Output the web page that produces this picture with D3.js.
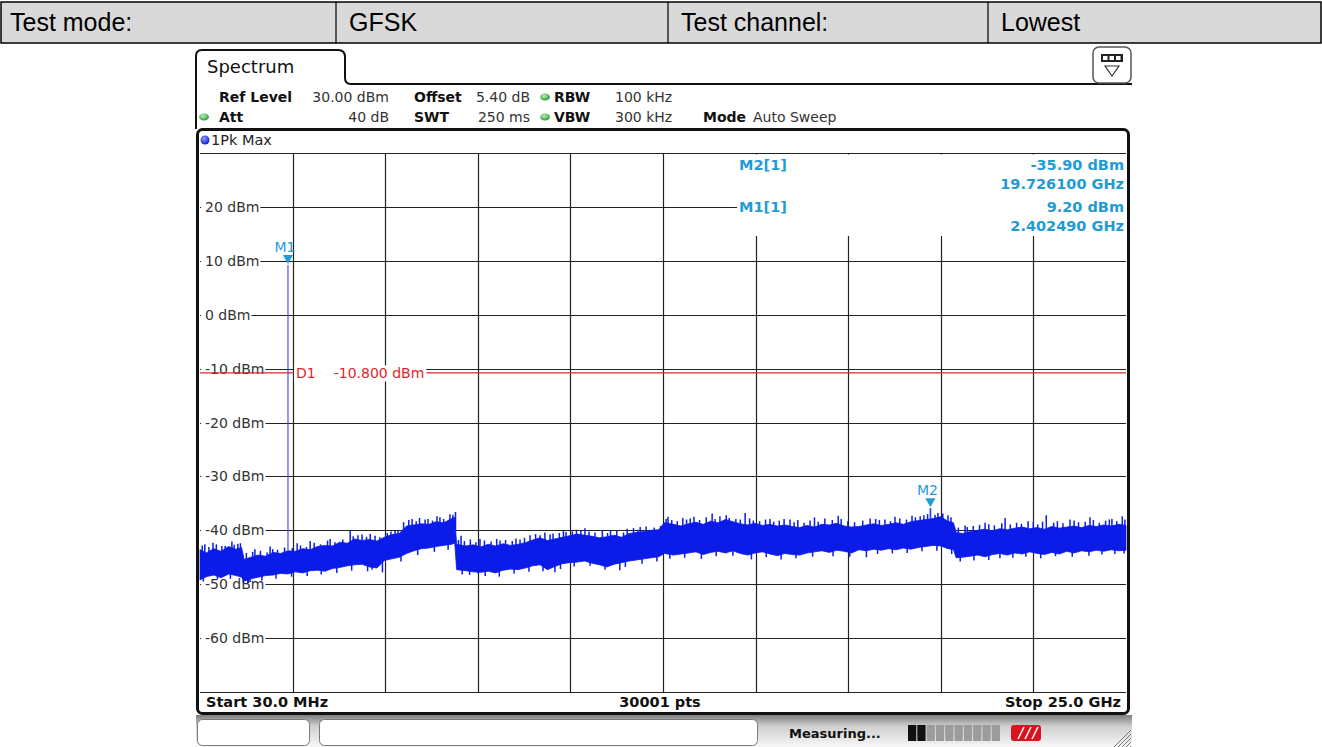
<!DOCTYPE html>
<html>
<head>
<meta charset="utf-8">
<script src="https://cdn.jsdelivr.net/npm/d3@7"></script>
<style>
  html, body { margin: 0; padding: 0; background: #fff; }
  svg { display: block; }
</style>
</head>
<body>
<svg id="chart" width="1322" height="747"></svg>
<script>
// ---------------- data ----------------
const headerTexts = ["Test mode:", "GFSK", "Test channel:", "Lowest"];

const startGHz = 0.03;
const stopGHz = 25.0;
const refLevel = 30;          // dBm, top of the screen
const dbPerDiv = 10;
const sweepPoints = 30001;

const yTickValues = [20, 10, 0, -10, -20, -30, -40, -50, -60];
const displayLineDbm = -10.8;

// peak-hold trace envelope: frequency (GHz), upper and lower edge (dBm)
const freqGHz = [
  0.03, 0.2, 0.4, 0.6, 0.8, 1.0, 1.15, 1.22, 1.4, 1.6,
  1.8, 2.0, 2.2, 2.4, 2.6, 2.8, 3.0, 3.2, 3.4, 3.6,
  3.8, 4.0, 4.2, 4.4, 4.6, 4.8, 5.0, 5.2, 5.4, 5.6,
  5.8, 6.0, 6.2, 6.4, 6.6, 6.8, 6.9, 6.95, 7.2, 7.4,
  7.6, 7.8, 8.0, 8.2, 8.4, 8.6, 8.8, 9.0, 9.2, 9.4,
  9.6, 9.8, 10.0, 10.2, 10.4, 10.6, 10.8, 11.0, 11.2, 11.4,
  11.6, 11.8, 12.0, 12.2, 12.4, 12.55, 12.8, 13.0, 13.2, 13.4,
  13.6, 13.8, 14.0, 14.2, 14.4, 14.6, 14.8, 15.0, 15.2, 15.4,
  15.6, 15.8, 16.0, 16.2, 16.4, 16.6, 16.8, 17.0, 17.2, 17.4,
  17.6, 17.8, 18.0, 18.2, 18.4, 18.6, 18.8, 19.0, 19.2, 19.4,
  19.6, 19.8, 20.0, 20.2, 20.35, 20.42, 20.6, 20.8, 21.0, 21.2,
  21.4, 21.6, 21.8, 22.0, 22.2, 22.4, 22.6, 22.8, 23.0, 23.2,
  23.4, 23.6, 23.8, 24.0, 24.2, 24.4, 24.6, 24.8, 25.0
];
const traceTop = [
  -43.6, -44.2, -43.4, -43.9, -43.0, -43.5, -43.2, -45.4, -45.0, -44.6,
  -44.8, -44.1, -44.3, -43.8, -43.9, -43.4, -43.6, -43.0, -42.8, -42.9,
  -42.2, -42.4, -41.6, -41.9, -41.7, -42.0, -41.3, -40.8, -40.6, -39.2,
  -39.0, -38.8, -38.9, -38.4, -38.6, -37.9, -37.6, -42.6, -42.9, -42.7,
  -43.1, -42.6, -42.9, -42.5, -42.8, -42.6, -42.3, -41.8, -41.4, -41.9,
  -41.6, -41.3, -41.0, -40.7, -40.9, -41.1, -41.4, -41.2, -40.9, -41.3,
  -40.6, -40.4, -40.2, -40.0, -39.9, -38.6, -38.9, -39.2, -38.8, -38.5,
  -38.9, -38.3, -38.6, -38.0, -38.4, -38.8, -39.0, -38.7, -39.1, -38.9,
  -39.2, -39.0, -39.3, -39.5, -39.1, -39.4, -38.9, -39.0, -38.7, -39.2,
  -39.4, -39.3, -39.0, -38.8, -39.1, -38.9, -38.6, -38.9, -38.4, -38.2,
  -38.0, -37.8, -37.5, -38.3, -38.6, -40.4, -40.6, -40.2, -40.0, -39.8,
  -40.1, -39.7, -39.9, -39.6, -39.4, -39.7, -39.5, -39.8, -39.3, -39.6,
  -39.4, -39.2, -39.5, -39.1, -39.3, -39.0, -39.2, -38.9, -39.1
];
const traceBottom = [
  -49.2, -48.6, -48.3, -48.8, -48.1, -48.4, -48.7, -49.4, -49.0, -48.7,
  -48.4, -48.3, -48.0, -48.1, -47.7, -47.9, -47.5, -47.4, -47.6, -47.1,
  -46.9, -46.6, -46.4, -46.3, -46.8, -47.0, -45.6, -45.3, -45.0, -44.3,
  -43.8, -43.4, -43.3, -43.0, -42.8, -42.6, -42.4, -47.3, -47.5, -47.7,
  -47.8, -47.6, -47.9, -47.4, -47.2, -47.3, -47.0, -46.6, -46.4, -47.3,
  -46.7, -46.2, -46.0, -45.9, -45.7, -46.1, -46.4, -46.8, -46.3, -46.0,
  -45.7, -45.5, -45.3, -45.1, -44.9, -44.3, -44.6, -44.4, -44.2, -44.0,
  -44.5, -44.1, -43.9, -44.2, -43.8, -44.3, -44.6, -44.2, -44.0, -44.4,
  -44.7, -44.3, -44.5, -44.6, -44.2, -44.0, -43.8, -44.1, -43.7, -43.9,
  -44.2, -43.6, -43.8, -43.5, -43.7, -43.4, -43.6, -43.3, -43.5, -43.2,
  -43.0, -42.8, -42.9, -43.4, -43.6, -45.1, -45.0, -44.8, -44.6, -44.9,
  -44.5, -44.3, -44.6, -44.2, -44.4, -44.0, -44.3, -44.5, -44.1, -44.4,
  -43.9, -44.2, -43.8, -44.0, -43.7, -43.9, -43.6, -43.8, -43.7
];

// tall noise peaks above the band: [GHz, dBm]
const peakSpikes = [
  [0.16, -42.6], [0.38, -42.3], [0.62, -42.9], [0.89, -42.1], [1.05, -42.5],
  [1.51, -43.5], [1.92, -43.0], [2.65, -42.4], [3.0, -42.0], [3.54, -41.6],
  [4.08, -40.0], [4.4, -40.8], [4.75, -41.0], [5.29, -40.1], [5.75, -37.9],
  [6.1, -38.0], [6.42, -37.4], [6.77, -37.0], [6.92, -36.6], [7.07, -41.0],
  [7.58, -41.6], [8.12, -41.9], [8.66, -41.7], [9.33, -40.4], [9.9, -40.3],
  [10.41, -39.6], [11.1, -40.0], [11.9, -39.4], [12.65, -37.5], [13.25, -37.8],
  [13.84, -36.9], [14.22, -37.2], [14.73, -36.8], [15.4, -37.9], [15.94, -38.0],
  [16.6, -37.6], [17.24, -37.3], [18.1, -37.8], [18.77, -37.5], [19.23, -37.3],
  [19.93, -36.8], [20.2, -37.2], [20.66, -39.1], [21.2, -38.6], [21.74, -37.7],
  [22.36, -38.3], [22.85, -37.2], [23.49, -38.0], [24.03, -37.6], [24.62, -37.9],
  [24.9, -37.4]
];
// small noise peaks along the upper edge: [GHz, dBm]
const minorPeaks = [
  [0.09, -42.8], [0.27, -43.1], [0.47, -42.6], [0.71, -42.9], [0.95, -42.7], [1.12, -42.4],
  [1.28, -44.2], [1.45, -44.0], [1.66, -43.8], [1.84, -44.1], [1.99, -43.5],
  [2.12, -43.6], [2.31, -43.2], [2.52, -43.3], [2.74, -42.8], [2.9, -43.1],
  [3.11, -42.3], [3.28, -42.6], [3.47, -41.9], [3.67, -42.2], [3.88, -41.7],
  [4.16, -41.1], [4.29, -40.9], [4.52, -41.2], [4.62, -40.7], [4.88, -41.3],
  [5.08, -40.5], [5.18, -40.2], [5.37, -40.0],
  [5.52, -38.5], [5.66, -38.1], [5.86, -38.3], [5.95, -37.7], [6.18, -37.9], [6.3, -38.2],
  [6.5, -37.6], [6.6, -37.9], [6.85, -37.1],
  [7.0, -41.8], [7.16, -42.0], [7.32, -41.7], [7.47, -42.2], [7.7, -41.9], [7.88, -42.1],
  [8.03, -41.6], [8.27, -41.8], [8.45, -42.0], [8.55, -41.5], [8.78, -41.4], [8.93, -40.9],
  [9.08, -40.7], [9.2, -40.9], [9.47, -40.8], [9.55, -40.6], [9.72, -40.5], [9.83, -40.1],
  [10.07, -40.2], [10.18, -39.9], [10.3, -40.1],
  [10.52, -40.2], [10.68, -40.4], [10.88, -40.0], [11.02, -40.5], [11.27, -40.1], [11.45, -40.4],
  [11.55, -39.7], [11.72, -39.6], [11.84, -39.9], [12.06, -39.3], [12.28, -39.5], [12.45, -39.2],
  [12.6, -37.9], [12.75, -38.1], [12.9, -38.3], [13.05, -37.7], [13.15, -38.0], [13.35, -37.5],
  [13.5, -38.1], [13.68, -37.6], [13.92, -37.9], [14.05, -37.4], [14.3, -37.7], [14.48, -37.9],
  [14.6, -38.0], [14.85, -37.8], [14.95, -38.2],
  [15.12, -38.3], [15.28, -38.0], [15.5, -38.4], [15.65, -38.2], [15.78, -37.9], [16.05, -38.5],
  [16.15, -38.1], [16.32, -38.6], [16.48, -38.2], [16.7, -38.4], [16.88, -37.8],
  [17.08, -38.1], [17.32, -37.9], [17.5, -38.3], [17.68, -38.5], [17.9, -38.2], [18.25, -37.9],
  [18.35, -38.1], [18.5, -38.0], [18.65, -38.3], [18.9, -37.8], [19.08, -38.0], [19.32, -37.6],
  [19.45, -37.4],
  [19.55, -37.2], [19.65, -37.0], [19.85, -37.1], [20.06, -36.9], [20.28, -37.6],
  [20.48, -39.5], [20.72, -39.4], [20.88, -39.2], [21.05, -39.0], [21.3, -38.9], [21.45, -39.1],
  [21.65, -38.7], [21.88, -38.9],
  [22.05, -38.6], [22.18, -38.8], [22.5, -38.5], [22.62, -38.9], [22.75, -38.4], [23.05, -38.6],
  [23.15, -38.3], [23.3, -38.7], [23.6, -38.2], [23.72, -38.5], [23.9, -38.4], [24.12, -38.1],
  [24.28, -38.6], [24.45, -38.2], [24.55, -38.0], [24.75, -38.3], [24.97, -38.0]
];
// dips below the band: [GHz, dBm]
const dipSpikes = [
  [1.2, -49.8], [1.38, -49.6], [4.67, -47.3], [7.1, -48.2], [7.53, -48.0],
  [9.6, -47.8], [11.35, -47.4], [18.0, -45.0], [20.53, -45.8], [21.6, -45.2],
  [0.12, -49.5], [0.5, -49.1], [0.85, -49.0], [1.32, -49.8], [1.7, -49.3],
  [2.08, -49.0], [2.5, -48.6], [2.92, -48.5], [3.3, -48.2], [3.72, -47.9],
  [4.12, -47.5], [4.55, -47.6], [4.95, -47.8], [5.45, -45.8], [5.9, -44.6],
  [6.35, -44.0], [6.72, -43.6], [7.3, -48.3], [7.72, -48.5], [8.1, -48.6],
  [8.5, -48.0], [8.9, -47.7], [9.28, -47.6], [9.75, -47.2], [10.12, -46.7],
  [10.55, -46.6], [10.95, -47.3], [11.5, -46.8], [11.95, -46.2], [12.35, -45.8],
  [12.7, -45.3], [13.1, -45.1], [13.55, -45.3], [13.95, -44.8], [14.4, -44.7],
  [14.9, -45.4], [15.3, -45.0], [15.7, -45.4], [16.1, -45.2], [16.55, -44.9],
  [17.1, -44.8], [17.55, -44.9], [18.3, -44.4], [18.7, -44.3], [19.1, -44.2],
  [19.5, -43.9], [19.9, -43.8], [20.3, -44.4], [20.9, -45.6], [21.3, -45.5],
  [21.95, -45.1], [22.3, -44.9], [22.7, -45.2], [23.1, -44.8], [23.55, -44.9],
  [24.0, -44.7], [24.35, -44.5], [24.7, -44.4], [24.95, -44.3]
];

const markers = [
  { name: "M1", freq: 2.402490, level: 9.20 },
  { name: "M2", freq: 19.726100, level: -35.90 }
];

// ---------------- layout ----------------
const INST = '"DejaVu Sans", Verdana, sans-serif';
const plot = { left: 200, right: 1126, top: 153, bottom: 692 };
const svg = d3.select("#chart");

const x = d3.scaleLinear().domain([startGHz, stopGHz]).range([plot.left, plot.right]);
const y = d3.scaleLinear()
  .domain([refLevel - 10 * dbPerDiv, refLevel])
  .range([plot.bottom, plot.top]);

const defs = svg.append("defs");
const barGrad = defs.append("linearGradient").attr("id", "statusGrad")
  .attr("x1", 0).attr("y1", 0).attr("x2", 0).attr("y2", 1);
barGrad.append("stop").attr("offset", "0%").attr("stop-color", "#7e7e7e");
barGrad.append("stop").attr("offset", "35%").attr("stop-color", "#cfcfcf");
barGrad.append("stop").attr("offset", "100%").attr("stop-color", "#f7f7f7");
const dotGrad = defs.append("radialGradient").attr("id", "greenDot")
  .attr("cx", "40%").attr("cy", "35%").attr("r", "65%");
dotGrad.append("stop").attr("offset", "0%").attr("stop-color", "#b9f0b4");
dotGrad.append("stop").attr("offset", "100%").attr("stop-color", "#2f9a3a");
const blueDot = defs.append("radialGradient").attr("id", "blueDot")
  .attr("cx", "40%").attr("cy", "35%").attr("r", "65%");
blueDot.append("stop").attr("offset", "0%").attr("stop-color", "#8f9dff");
blueDot.append("stop").attr("offset", "100%").attr("stop-color", "#1020d0");

// ---------------- header table ----------------
const colEdges = [1, 336, 668, 988, 1321];
const table = svg.append("g");
table.append("rect").attr("x", 1).attr("y", 2).attr("width", 1320).attr("height", 41)
  .attr("fill", "#d9d9d9").attr("stroke", "#000").attr("stroke-width", 1.5);
colEdges.slice(1, -1).forEach(cx => {
  table.append("line").attr("x1", cx).attr("x2", cx).attr("y1", 2).attr("y2", 43)
    .attr("stroke", "#000").attr("stroke-width", 1.2);
});
table.selectAll("text.cell").data(headerTexts).join("text")
  .attr("class", "cell")
  .attr("x", (d, i) => colEdges[i] + (i === 0 ? 9 : 13))
  .attr("y", 31)
  .attr("font-family", '"Liberation Sans", Arial, sans-serif')
  .attr("font-size", 25)
  .attr("fill", "#000")
  .text(d => d);

// ---------------- analyzer window chrome ----------------
const chrome = svg.append("g");
chrome.append("path")
  .attr("d", "M196,129 L196,56 Q196,50 202,50 L338,50 Q345,50 345,57 L345,78 Q345,84 351,84 L1132,84")
  .attr("fill", "none").attr("stroke", "#111").attr("stroke-width", 2);
chrome.append("text").attr("x", 207).attr("y", 73)
  .attr("font-family", INST).attr("font-size", 18).attr("fill", "#111").text("Spectrum");

// toolbar icon at the tab row
chrome.append("rect").attr("x", 1093).attr("y", 47).attr("width", 38).attr("height", 36).attr("rx", 6)
  .attr("fill", "#fff").attr("stroke", "#555").attr("stroke-width", 1.5);
chrome.append("rect").attr("x", 1101).attr("y", 54).attr("width", 22).attr("height", 8).attr("fill", "#222");
[1103, 1109.5, 1116].forEach(ix => chrome.append("rect").attr("x", ix).attr("y", 56)
  .attr("width", 4.5).attr("height", 4).attr("fill", "#fff"));
chrome.append("path").attr("d", "M1105,66 L1119,66 L1112,76 Z")
  .attr("fill", "none").attr("stroke", "#333").attr("stroke-width", 1.2);

// settings lines
const settings = [
  { t: "Ref Level", bold: true, x: 219, row: 0 },
  { t: "30.00 dBm", bold: false, x: 389, row: 0, end: true },
  { t: "Offset", bold: true, x: 414, row: 0 },
  { t: "5.40 dB", bold: false, x: 530, row: 0, end: true },
  { t: "RBW", bold: true, x: 554, row: 0 },
  { t: "100 kHz", bold: false, x: 615, row: 0 },
  { t: "Att", bold: true, x: 219, row: 1 },
  { t: "40 dB", bold: false, x: 389, row: 1, end: true },
  { t: "SWT", bold: true, x: 414, row: 1 },
  { t: "250 ms", bold: false, x: 530, row: 1, end: true },
  { t: "VBW", bold: true, x: 554, row: 1 },
  { t: "300 kHz", bold: false, x: 615, row: 1 },
  { t: "Mode", bold: true, x: 703, row: 1 },
  { t: "Auto Sweep", bold: false, x: 753, row: 1 }
];
const rowBase = [102, 122];
chrome.selectAll("text.set").data(settings).join("text")
  .attr("class", "set")
  .attr("x", d => d.x).attr("y", d => rowBase[d.row])
  .attr("text-anchor", d => d.end ? "end" : "start")
  .attr("font-family", INST).attr("font-size", 14)
  .attr("font-weight", d => d.bold ? "bold" : "normal")
  .attr("fill", d => d.bold ? "#111" : "#333")
  .text(d => d.t);
[[204, 117], [545, 97], [545, 117]].forEach(([cx, cy]) =>
  chrome.append("ellipse").attr("cx", cx).attr("cy", cy).attr("rx", 5).attr("ry", 3.5)
    .attr("fill", "url(#greenDot)"));

// ---------------- trace window ----------------
const win = svg.append("g");
win.append("rect").attr("x", 197.5).attr("y", 129.5).attr("width", 931).attr("height", 584)
  .attr("rx", 5).attr("fill", "#fff").attr("stroke", "#111").attr("stroke-width", 3);
win.append("circle").attr("cx", 205).attr("cy", 140).attr("r", 4.5).attr("fill", "url(#blueDot)");
win.append("text").attr("x", 211).attr("y", 145)
  .attr("font-family", INST).attr("font-size", 14.5).attr("fill", "#222").text("1Pk Max");

// grid
const grid = svg.append("g");
const vGrid = d3.range(0, 11).map(i => startGHz + i * (stopGHz - startGHz) / 10);
const hGrid = d3.range(refLevel - 10 * dbPerDiv, refLevel + 1, dbPerDiv);
grid.selectAll("line.h").data(hGrid).join("line").attr("class", "h")
  .attr("x1", plot.left).attr("x2", plot.right)
  .attr("y1", d => Math.round(y(d)) + 0.5).attr("y2", d => Math.round(y(d)) + 0.5)
  .attr("stroke", "#222").attr("stroke-width", 1.2);
grid.selectAll("line.v").data(vGrid.slice(1, -1)).join("line").attr("class", "v")
  .attr("x1", d => Math.round(x(d)) + 0.5).attr("x2", d => Math.round(x(d)) + 0.5)
  .attr("y1", plot.top).attr("y2", plot.bottom)
  .attr("stroke", "#222").attr("stroke-width", 1.2);

// marker readout area
grid.append("rect").attr("x", 737).attr("y", plot.top + 1.5)
  .attr("width", plot.right - 737).attr("height", 236 - plot.top - 1.5).attr("fill", "#fff");

// level labels
const lbl = grid.selectAll("g.ylab").data(yTickValues).join("g").attr("class", "ylab");
lbl.append("text")
  .attr("x", 205).attr("y", d => y(d) + 5)
  .attr("font-family", INST).attr("font-size", 14).attr("fill", "#333")
  .text(d => `${d} dBm`);
lbl.each(function () {
  const t = d3.select(this).select("text");
  const bb = t.node().getBBox();
  d3.select(this).insert("rect", "text")
    .attr("x", plot.left + 1).attr("y", bb.y + 1)
    .attr("width", bb.x + bb.width - plot.left).attr("height", bb.height - 2)
    .attr("fill", "#fff");
});

// display line D1
const dl = svg.append("g");
dl.append("line").attr("x1", plot.left).attr("x2", plot.right)
  .attr("y1", y(displayLineDbm)).attr("y2", y(displayLineDbm))
  .attr("stroke", "#e0262c").attr("stroke-width", 1.2);
const dlText = dl.append("text").attr("x", 296).attr("y", y(displayLineDbm) + 5.5)
  .attr("font-family", INST).attr("font-size", 14).attr("fill", "#e0262c");
dlText.append("tspan").text("D1");
dlText.append("tspan").attr("dx", 18).text(`${displayLineDbm.toFixed(3)} dBm`);
const dlb = dlText.node().getBBox();
dl.insert("rect", "text").attr("x", dlb.x - 2).attr("y", dlb.y)
  .attr("width", dlb.width + 4).attr("height", dlb.height).attr("fill", "#fff");

// ---------------- trace ----------------
const TRACE = "#0b1be8";
const traceData = freqGHz.map((f, i) => ({ f, top: traceTop[i], bottom: traceBottom[i] }));
const topAt = d3.scaleLinear().domain(freqGHz).range(traceTop);
const bottomAt = d3.scaleLinear().domain(freqGHz).range(traceBottom);
const tr = svg.append("g");
tr.append("path").datum(traceData)
  .attr("d", d3.area().x(d => x(d.f)).y0(d => y(d.bottom)).y1(d => y(d.top)))
  .attr("fill", TRACE).attr("stroke", TRACE).attr("stroke-width", 0.8);
tr.selectAll("line.pk").data(peakSpikes.concat(minorPeaks)).join("line").attr("class", "pk")
  .attr("x1", d => x(d[0])).attr("x2", d => x(d[0]))
  .attr("y1", d => y(topAt(d[0]) - 0.5)).attr("y2", d => y(d[1]))
  .attr("stroke", TRACE).attr("stroke-width", 1.5);
tr.selectAll("line.dp").data(dipSpikes).join("line").attr("class", "dp")
  .attr("x1", d => x(d[0])).attr("x2", d => x(d[0]))
  .attr("y1", d => y(bottomAt(d[0]) + 0.5)).attr("y2", d => y(d[1]))
  .attr("stroke", TRACE).attr("stroke-width", 1.5);
// marker peaks on the trace
tr.selectAll("line.mk").data(markers).join("line").attr("class", "mk")
  .attr("x1", d => x(d.freq)).attr("x2", d => x(d.freq))
  .attr("y1", d => y(topAt(d.freq))).attr("y2", d => y(d.level))
  .attr("stroke", "#3345f0").attr("stroke-width", d => d.level > 0 ? 1.1 : 1.8);

// ---------------- markers ----------------
const MK = "#1f9bd6";
const mk = svg.append("g");
mk.selectAll("path").data(markers).join("path")
  .attr("d", d => {
    const cx = x(d.freq), ty = y(d.level) - 1;
    return `M${cx - 5},${ty - 9} L${cx + 5},${ty - 9} L${cx},${ty} Z`;
  })
  .attr("fill", MK);
mk.selectAll("text").data(markers).join("text")
  .attr("x", d => x(d.freq) - 3).attr("y", d => y(d.level) - 13)
  .attr("text-anchor", "middle")
  .attr("font-family", INST).attr("font-size", 14).attr("fill", MK)
  .text(d => d.name);

// readout table (latest marker first)
const readout = svg.append("g")
  .attr("font-family", INST).attr("font-size", 14.5).attr("font-weight", "bold").attr("fill", MK);
const readRows = [markers[1], markers[0]];
readRows.forEach((m, i) => {
  const base = i === 0 ? 170 : 212;
  readout.append("text").attr("x", 739).attr("y", base).text(`${m.name}[1]`);
  readout.append("text").attr("x", 1124).attr("y", base).attr("text-anchor", "end")
    .text(`${m.level.toFixed(2)} dBm`);
  readout.append("text").attr("x", 1124).attr("y", base + 19).attr("text-anchor", "end")
    .text(`${m.freq.toFixed(6)} GHz`);
});

// ---------------- footer row ----------------
const foot = svg.append("g")
  .attr("font-family", INST).attr("font-size", 14.5).attr("font-weight", "bold").attr("fill", "#111");
foot.append("text").attr("x", 206).attr("y", 707).text(`Start ${(startGHz * 1000).toFixed(1)} MHz`);
foot.append("text").attr("x", 660).attr("y", 707).attr("text-anchor", "middle").text(`${sweepPoints} pts`);
foot.append("text").attr("x", 1121).attr("y", 707).attr("text-anchor", "end").text(`Stop ${stopGHz.toFixed(1)} GHz`);

// ---------------- status bar ----------------
const sb = svg.append("g");
sb.append("rect").attr("x", 196).attr("y", 715).attr("width", 936).attr("height", 32).attr("fill", "url(#statusGrad)");
sb.append("rect").attr("x", 197.5).attr("y", 719.5).attr("width", 112).attr("height", 26).attr("rx", 5)
  .attr("fill", "#fff").attr("stroke", "#7a7a7a");
sb.append("rect").attr("x", 319.5).attr("y", 719.5).attr("width", 438).attr("height", 26).attr("rx", 5)
  .attr("fill", "#fff").attr("stroke", "#7a7a7a");
sb.append("text").attr("x", 789).attr("y", 738)
  .attr("font-family", INST).attr("font-size", 13).attr("font-weight", "bold").attr("fill", "#111")
  .text("Measuring...");
d3.range(10).forEach(i => {
  sb.append("rect").attr("x", 908 + i * 9.3).attr("y", 725).attr("width", 8.3).attr("height", 16)
    .attr("fill", i < 2 ? "#111" : "#9c9c9c");
});
sb.append("rect").attr("x", 1011).attr("y", 725).attr("width", 30).attr("height", 16).attr("rx", 3).attr("fill", "#d8141e");
[1018, 1025, 1032].forEach(lx => sb.append("line")
  .attr("x1", lx).attr("y1", 739).attr("x2", lx + 6).attr("y2", 727)
  .attr("stroke", "#fff").attr("stroke-width", 1.6));
d3.range(5).forEach(i => {
  const o = 4 * i;
  sb.append("line").attr("x1", 1114 + o).attr("y1", 747).attr("x2", 1131).attr("y2", 730 + o)
    .attr("stroke", "#777").attr("stroke-width", 1);
});
</script>
</body>
</html>
